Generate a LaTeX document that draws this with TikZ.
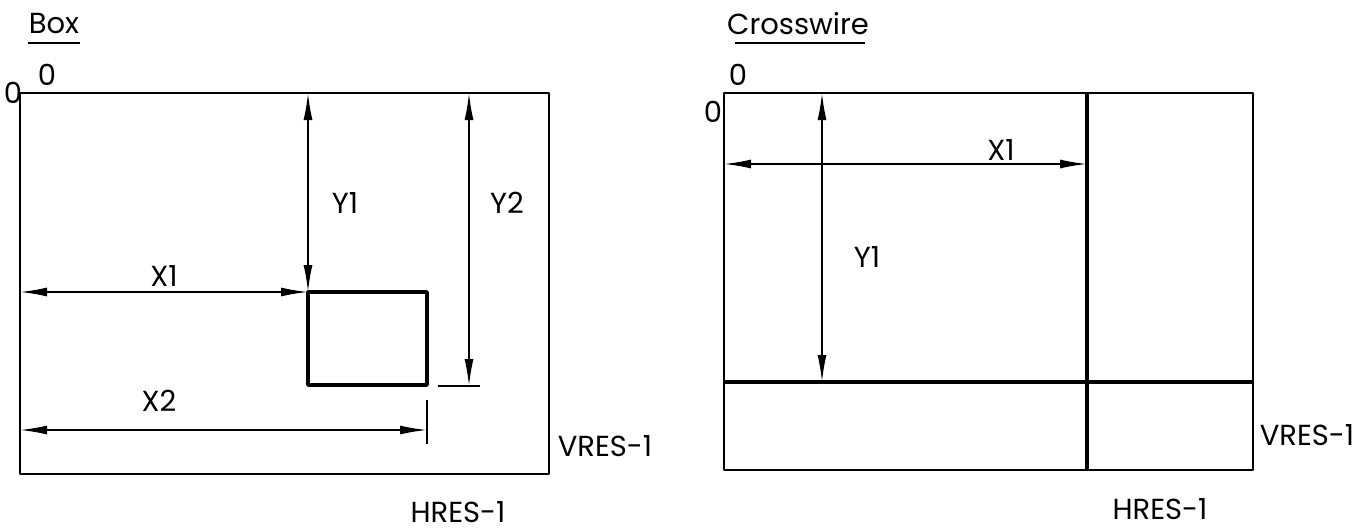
\documentclass[tikz,border=0pt]{standalone}
\usepackage{fontspec}
\setmainfont{Poppins}
\usetikzlibrary{arrows.meta}
\begin{document}
\begin{tikzpicture}[x=1pt,y=-1pt,
  frame/.style={line width=2.8pt, line join=round, line cap=round},
  wire/.style={line width=3.8pt, line join=round},
  dimline/.style={line width=1.7pt, {Latex[length=27pt,width=9pt]}-{Latex[length=27pt,width=9pt]}},
  tickline/.style={line width=1.7pt},
  ul/.style={line width=1.8pt},
  lbl/.style={font=\fontsize{29}{29}\selectfont, inner sep=0pt}
]
\useasboundingbox (0,0) rectangle (1371,530);

% ---------------- Box ----------------
\node[lbl] (boxtitle) at (54,24) {Box};
\coordinate (bul1) at (28,43);
\coordinate (bul2) at (80,43);
\draw[ul] (bul1) -- (bul2);

\coordinate (LTL) at (20,93);
\coordinate (LBR) at (549,474);
\draw[frame] (LTL) rectangle (LBR);

\node[lbl] (lzeroT) at (47,75) {0};
\node[lbl] (lzeroL) at (13,93) {0};

% inner box
\coordinate (ITL) at (308,292);
\coordinate (IBR) at (427,385);
\draw[wire] (ITL) rectangle (IBR);

% Y1
\coordinate (LY1a) at (308,93);
\coordinate (LY1b) at (308,292);
\draw[dimline] (LY1a) -- (LY1b);
\node[lbl] (lY1) at (345,203) {Y1};

% Y2
\coordinate (LY2a) at (469,93);
\coordinate (LY2b) at (469,386);
\draw[dimline] (LY2a) -- (LY2b);
\coordinate (LY2t1) at (438,386);
\coordinate (LY2t2) at (480,386);
\draw[tickline] (LY2t1) -- (LY2t2);
\node[lbl] (lY2) at (507,203) {Y2};

% X1
\coordinate (LX1a) at (20,292);
\draw[dimline] (LX1a) -- (ITL);
\node[lbl] (lX1) at (164,276) {X1};

% X2
\coordinate (LX2a) at (20,430);
\coordinate (LX2b) at (427,430);
\draw[dimline] (LX2a) -- (LX2b);
\coordinate (LX2t1) at (427,400);
\coordinate (LX2t2) at (427,444);
\draw[tickline] (LX2t1) -- (LX2t2);
\node[lbl] (lX2) at (159,401) {X2};

\node[lbl] (lvres) at (605,446) {VRES-1};
\node[lbl] (lhres) at (458,512) {HRES-1};

% ---------------- Crosswire ----------------
\node[lbl] (cwtitle) at (798,24) {Crosswire};
\coordinate (cul1) at (735,43);
\coordinate (cul2) at (865,43);
\draw[ul] (cul1) -- (cul2);

\coordinate (RTL) at (724,93);
\coordinate (RBR) at (1253,470);
\draw[frame] (RTL) rectangle (RBR);

\node[lbl] (rzeroT) at (738,75) {0};
\node[lbl] (rzeroL) at (713,112) {0};

% crosswires
\coordinate (CVa) at (1087,93);
\coordinate (CVb) at (1087,470);
\draw[wire] (CVa) -- (CVb);
\coordinate (CHa) at (724,382);
\coordinate (CHb) at (1253,382);
\draw[wire] (CHa) -- (CHb);

% Y1
\coordinate (RY1a) at (822,93);
\coordinate (RY1b) at (822,382);
\draw[dimline] (RY1a) -- (RY1b);
\node[lbl] (rY1) at (867,257) {Y1};

% X1
\coordinate (RX1a) at (724,164);
\coordinate (RX1b) at (1087,164);
\draw[dimline] (RX1a) -- (RX1b);
\node[lbl] (rX1) at (1001,150) {X1};

\node[lbl] (rvres) at (1307,435) {VRES-1};
\node[lbl] (rhres) at (1160,509) {HRES-1};
\end{tikzpicture}
\end{document}
